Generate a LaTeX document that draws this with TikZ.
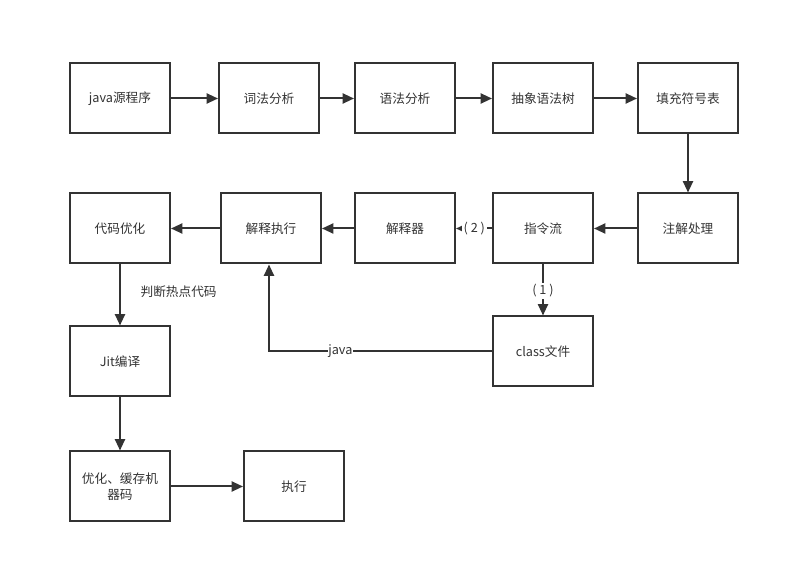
\documentclass[tikz,border=0pt]{standalone}
\usepackage{fontspec}
\setmainfont{Noto Sans CJK SC}
\usetikzlibrary{arrows.meta}
\definecolor{ink}{HTML}{333333}
\tikzset{
  box/.style={draw=ink, line width=1.5pt, minimum width=75pt, minimum height=52.5pt, inner sep=0pt, align=center, text=ink, font=\fontsize{9.5}{12}\selectfont, text width=68pt},
  conn/.style={draw=ink, line width=1.5pt, -{Triangle[length=8.5pt,width=7.5pt]}},
  lbl/.style={fill=white, text=ink, font=\fontsize{9.5}{12}\selectfont, inner sep=1pt}
}
\begin{document}
\begin{tikzpicture}[x=0.75pt,y=-0.75pt]
\useasboundingbox (0,0) rectangle (800,584);
\node[box] (src) at (120,98.5) {java源程序};
\node[box] (lex) at (269,98.5) {词法分析};
\node[box] (syn) at (405,98.5) {语法分析};
\node[box] (ast) at (543,98.5) {抽象语法树};
\node[box] (sym) at (688,98.5) {填充符号表};
\node[box] (opt) at (120,228.5) {代码优化};
\node[box] (exe) at (271,228.5) {解释执行};
\node[box] (intp) at (405,228.5) {解释器};
\node[box] (ins) at (543,228.5) {指令流};
\node[box] (ann) at (688,228.5) {注解处理};
\node[box] (cls) at (543,351.5) {class文件};
\node[box] (jit) at (120,361.5) {Jit编译};
\node[box] (cache) at (120,486.5) {优化、缓存机\\器码};
\node[box] (run) at (294,486.5) {执行};
\coordinate (corner) at (269,351.5);
\draw[conn] (src) -- (lex);
\draw[conn] (lex) -- (syn);
\draw[conn] (syn) -- (ast);
\draw[conn] (ast) -- (sym);
\draw[conn] (sym) -- (ann);
\draw[conn] (ann) -- (ins);
\draw[conn] (ins) -- node[lbl, pos=0.49, inner xsep=1.5pt] {( 2 )} (intp);
\draw[conn] (intp) -- (exe);
\draw[conn] (exe) -- (opt);
\draw[conn] (opt) -- (jit);
\node[lbl, anchor=west] (hot) at (139,292) {判断热点代码};
\draw[conn] (jit) -- (cache);
\draw[conn] (cache) -- (run);
\draw[conn] (ins.south) -- node[lbl, pos=0.52] {( 1 )} (cls.north);
\draw[conn] (cls.west) -- node[lbl, pos=0.68, inner sep=0.5pt] {java} (corner) -- (exe.south -| corner);
\end{tikzpicture}
\end{document}
